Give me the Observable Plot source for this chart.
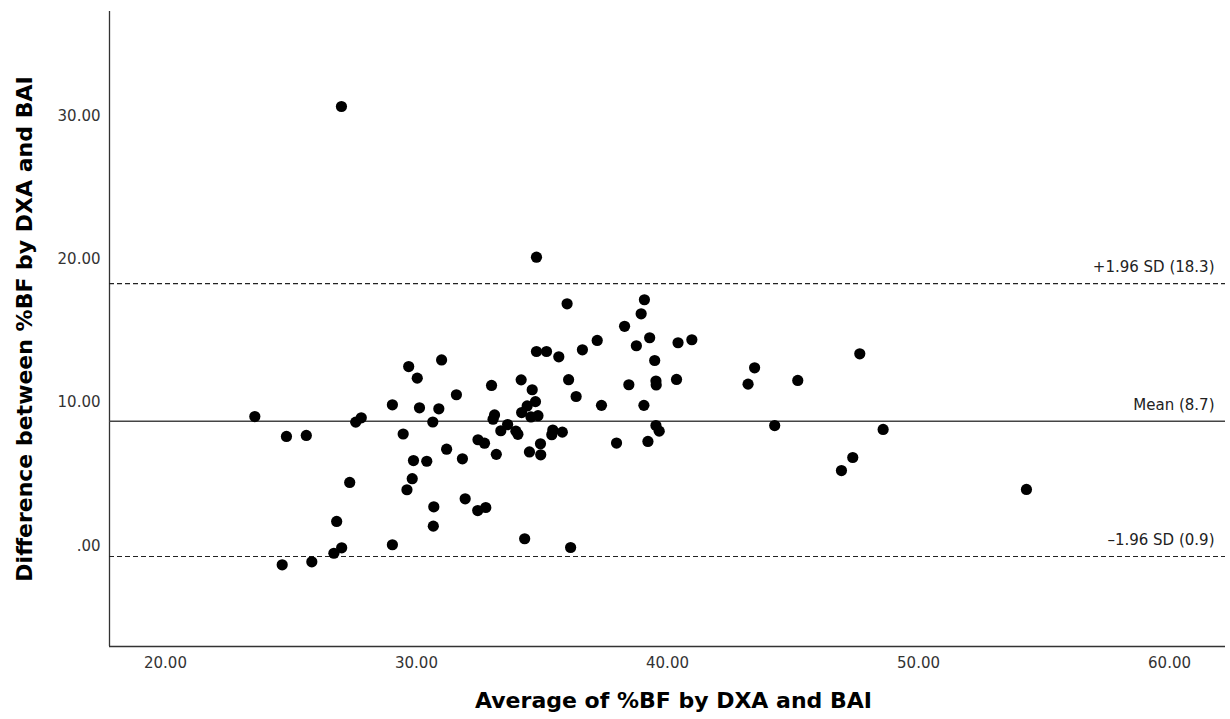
<!DOCTYPE html>
<html>
<head>
<meta charset="utf-8">
<script src="https://cdn.jsdelivr.net/npm/d3@7"></script>
<script src="https://cdn.jsdelivr.net/npm/@observablehq/plot@0.6"></script>
<style>
  html, body { margin: 0; padding: 0; background: #fff; }
</style>
</head>
<body>
<div id="chart"></div>
<script>
// Average of %BF by DXA and BAI (x) for each subject
const avgX = [
  27.01, 34.78, 36.00, 39.08, 38.95, 38.29, 39.29, 38.76, 37.20, 36.61,
  40.42, 40.97, 34.78, 35.18, 35.67, 31.00, 39.49, 47.66, 48.59, 47.38,
  46.93, 54.30, 29.69, 30.03, 34.17, 36.06, 32.99, 34.61, 38.46, 39.54,
  39.55, 40.36, 43.47, 43.21, 45.19, 31.59, 36.36, 34.74, 34.41, 30.12,
  30.89, 37.37, 39.06, 34.19, 33.11, 33.05, 34.56, 34.84, 30.65, 33.63,
  44.27, 39.54, 39.67, 29.47, 33.36, 33.96, 34.04, 35.43, 35.39, 35.81,
  32.45, 32.71, 37.97, 39.22, 31.20, 34.94, 34.50, 34.95, 33.18, 31.83,
  29.88, 30.41, 29.83, 29.62, 31.94, 30.69, 32.44, 32.76, 30.67, 34.31,
  36.14, 23.56, 24.82, 25.61, 27.34, 27.58, 27.80, 29.04, 26.82, 27.02,
  26.71, 29.04, 24.65, 25.83
];
// Difference between %BF by DXA and BAI (y) for each subject
const diffY = [
  30.66, 20.14, 16.89, 17.17, 16.19, 15.32, 14.52, 13.96, 14.33, 13.68,
  14.17, 14.38, 13.56, 13.56, 13.19, 12.97, 12.93, 13.40, 8.12, 6.16,
  5.25, 3.93, 12.51, 11.70, 11.58, 11.59, 11.19, 10.89, 11.24, 11.50,
  11.22, 11.61, 12.42, 11.28, 11.54, 10.54, 10.42, 10.06, 9.76, 9.63,
  9.56, 9.80, 9.80, 9.30, 9.13, 8.83, 8.99, 9.08, 8.64, 8.46,
  8.39, 8.39, 8.00, 7.80, 8.03, 8.00, 7.78, 8.08, 7.75, 7.93,
  7.40, 7.16, 7.17, 7.28, 6.74, 7.12, 6.55, 6.35, 6.38, 6.07,
  5.95, 5.90, 4.68, 3.91, 3.28, 2.72, 2.46, 2.67, 1.37, 0.49,
  -0.12, 9.02, 7.63, 7.70, 4.42, 8.63, 8.93, 9.84, 1.70, -0.14,
  -0.52, 0.07, -1.33, -1.12
];

const xTicks = [20, 30, 40, 50, 60];
const xTickLabels = ["20.00", "30.00", "40.00", "50.00", "60.00"];
const yTicks = [0, 10, 20, 30];
const yTickLabels = [".00", "10.00", "20.00", "30.00"];

const refValues = [18.3, 8.7, -0.75];
const refLabels = ["+1.96 SD (18.3)", "Mean (8.7)", "\u20131.96 SD (0.9)"];
const refDashed = [true, false, true];

const xTitle = "Average of %BF by DXA and BAI";
const yTitle = "Difference between %BF by DXA and BAI";

const xDomain = [17.77, 62.23];
const yDomain = [-7.03, 37.29];

const points = avgX.map((x, i) => ({x, y: diffY[i]}));
const refs = refValues.map((v, i) => ({v, label: refLabels[i], dashed: refDashed[i]}));

const chart = Plot.plot({
  width: 1230,
  height: 719,
  marginLeft: 109,
  marginRight: 5,
  marginTop: 11,
  marginBottom: 73,
  style: {
    fontFamily: "'DejaVu Sans', sans-serif",
    fontSize: "15px",
    background: "#fff",
    color: "#333"
  },
  x: {domain: xDomain},
  y: {domain: yDomain},
  marks: [
    Plot.axisX({
      ticks: xTicks,
      tickFormat: d => xTickLabels[xTicks.indexOf(d)],
      tickSize: 0,
      tickPadding: 11,
      label: null,
      fontSize: 15,
      fill: "#333"
    }),
    Plot.axisY({
      ticks: yTicks,
      tickFormat: d => yTickLabels[yTicks.indexOf(d)],
      tickSize: 0,
      tickPadding: 9,
      label: null,
      fontSize: 15,
      fill: "#333"
    }),
    Plot.ruleX([xDomain[0]], {stroke: "#333", strokeWidth: 1.3}),
    Plot.ruleY([yDomain[0]], {stroke: "#333", strokeWidth: 1.3}),
    Plot.ruleY(refs.filter(d => !d.dashed), {y: "v", stroke: "#444", strokeWidth: 1.5}),
    Plot.ruleY(refs.filter(d => d.dashed), {y: "v", stroke: "#222", strokeWidth: 1.2, strokeDasharray: "5,3"}),
    Plot.text(refs, {
      y: "v", text: "label", frameAnchor: "right", textAnchor: "end",
      dx: -11, dy: -16, fill: "#222", fontSize: 15
    }),
    Plot.dot(points, {x: "x", y: "y", r: 5.6, fill: "#000", stroke: "none"}),
    Plot.text([xTitle], {
      frameAnchor: "bottom", dx: 6, dy: 61, text: d => d, textAnchor: "middle",
      fontSize: 22, fontWeight: "bold", fill: "#000"
    }),
    Plot.text([yTitle], {
      frameAnchor: "left", dx: -85, rotate: -90, text: d => d, textAnchor: "middle",
      fontSize: 22, fontWeight: "bold", fill: "#000"
    })
  ]
});

document.getElementById("chart").appendChild(chart);
</script>
</body>
</html>
